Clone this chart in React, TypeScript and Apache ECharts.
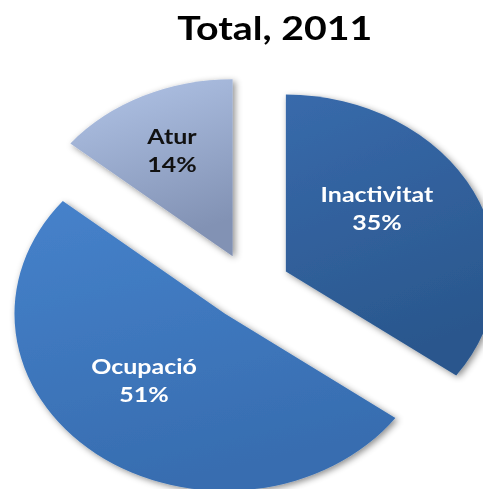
import React, { useEffect, useRef } from "react";
import * as echarts from "echarts";

const titleText = "Total, 2011";
const categories = ["Inactivitat", "Ocupació", "Atur"];
const values = [35, 51, 14];
const labelColors = ["#ffffff", "#ffffff", "#111111"];
const sliceColors = [
  ["#386aab", "#2a578d"],
  ["#4682cb", "#376db0"],
  ["#b2c5e8", "#8292b4"],
];
// label nudges (dx, dy) relative to the default inside position
const labelNudges = [
  [-5, -22],
  [-12, -6],
  [-12, -24],
];

const STRETCH = 483 / 406;

export default function App() {
  const ref = useRef<HTMLDivElement>(null);
  useEffect(() => {
    document.body.style.margin = "0";
    const chart = echarts.init(ref.current!, null, { renderer: "svg" });
    const data = categories.map((name, i) => {
      const style = {
        color: new echarts.graphic.LinearGradient(0, 0, 0.3, 1, [
          { offset: 0, color: sliceColors[i][0] },
          { offset: 1, color: sliceColors[i][1] },
        ]),
        shadowBlur: 6,
        shadowColor: "rgba(0,0,0,0.45)",
        shadowOffsetX: 2,
        shadowOffsetY: 2,
        borderWidth: 0,
      };
      const label = {
        color: labelColors[i],
      };
      return {
        name,
        value: values[i],
        selected: true,
        itemStyle: style,
        label,
        select: { itemStyle: style, label },
      };
    });
    chart.setOption({
      animation: false,
      title: {
        text: titleText,
        left: 144,
        top: 6,
        textStyle: {
          fontFamily: "Lato",
          fontWeight: "bold",
          fontSize: 33,
          color: "#000000",
        },
      },
      series: [
        {
          type: "pie",
          center: [210, 287],
          radius: 177,
          startAngle: 90,
          clockwise: true,
          selectedMode: "multiple",
          selectedOffset: 34,
          avoidLabelOverlap: false,
          emphasis: { disabled: true },
          label: {
            show: true,
            position: "inside",
            formatter: "{b}\n{c}%",
            fontFamily: "Lato",
            fontWeight: "bold",
            fontSize: 21,
            lineHeight: 28,
          },
          labelLine: { show: false },
          labelLayout: (p: any) => ({
            dx: labelNudges[p.dataIndex][0],
            dy: labelNudges[p.dataIndex][1],
          }),
          data,
        },
      ],
    });
    return () => chart.dispose();
  }, []);
  return (
    <div
      ref={ref}
      style={{
        position: "fixed",
        left: 0,
        top: 0,
        width: 406,
        height: 489,
        transform: `scaleX(${STRETCH})`,
        transformOrigin: "0 0",
      }}
    />
  );
}
